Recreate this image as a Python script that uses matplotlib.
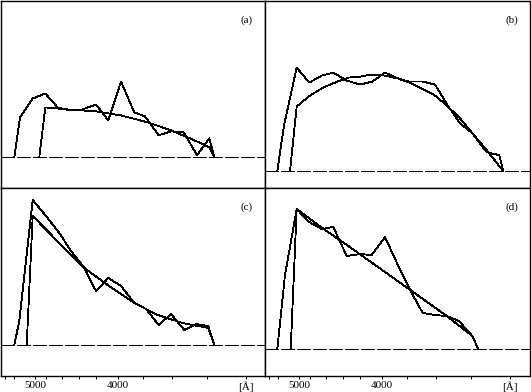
import matplotlib
matplotlib.use("Agg")
import matplotlib.pyplot as plt

# Dispersion coordinate (arbitrary position along spectrum), flux above baseline (arbitrary units)
a_obs_x = [13.3, 19, 31.7, 44.3, 56.7, 68.3, 81.7, 95, 107.3, 120, 133.3, 144, 157.7, 170, 182.7, 196, 208.3, 213.3]
a_obs_y = [0, 40, 59, 64, 50, 47, 48, 53, 37, 76, 45, 41, 22, 26, 25, 2, 19, 0]
a_fit_x = [38.3, 44.3, 66.7, 95, 120, 146.7, 170, 193.3, 208.3, 213.3]
a_fit_y = [0, 50, 48, 46, 42, 35, 27, 17, 10, 0]

b_obs_x = [12.3, 19, 31.7, 44.3, 56.7, 68.3, 81.7, 95, 107.3, 120, 133.3, 144, 157.7, 170, 182.7, 195, 207.3, 221.7, 234.3, 238.3]
b_obs_y = [0, 46, 104, 89, 96, 99, 91, 87, 90, 99, 93, 90, 90, 87, 66, 48, 38, 19, 16, 0]
b_fit_x = [25, 31.7, 45, 58.3, 70, 83.3, 95, 106.7, 120, 133.3, 146.7, 156.7, 170, 181.7, 195, 208.3, 221.7, 238.3]
b_fit_y = [0, 65, 76, 84, 89, 94, 95, 97, 96, 93, 88, 83, 76, 66, 53, 37, 21, 0]

c_obs_x = [13.3, 18.3, 31.7, 45, 58.3, 70, 82.7, 95, 107.3, 120, 133.3, 145, 157.7, 170, 183.3, 195, 207.3, 213.3]
c_obs_y = [0, 24, 145, 129, 112, 94, 78, 54, 67, 59, 42, 36, 20, 31, 15, 21, 19, 0]
c_fit_x = [25.7, 31.7, 58.3, 83.3, 106.7, 133.3, 156.7, 181.7, 207.3, 213.3]
c_fit_y = [0, 129, 102, 77, 60, 42, 30, 22, 17, 0]

d_obs_x = [12.3, 20, 31.7, 44.3, 56.7, 68.3, 81.7, 95, 106.7, 120, 133.3, 146.7, 157.7, 170, 181.7, 194, 207.3, 213.3]
d_obs_y = [0, 74, 140, 127, 120, 122, 93, 95, 94, 112, 83, 56, 36, 34, 33, 28, 13, 0]
d_fit_x = [25.7, 31.7, 60, 83.3, 120, 146.7, 181.7, 207.3, 213.3]
d_fit_y = [0, 140, 119, 103, 77, 58, 33, 13, 0]

panel_labels = ["(a)", "(b)", "(c)", "(d)"]
ylims = [(-31, 157), (-17, 171), (-31, 157), (-27, 161)]

tick_pos = [4, 12.7, 34, 45, 61, 77.7, 95, 116.7, 141.7, 170.7, 206, 245]
tick_labels = ["", "", "5000", "", "", "", "", "4000", "", "", "", "[Å]"]

W, H = 531, 392
fig = plt.figure(figsize=(W / 100, H / 100), dpi=100)
fig.patch.set_facecolor("white")

xl, xm, xr = 1, 265, 530
yt, ym, yb = 1, 188, 376
boxes = [
    (xl, yt, xm, ym), (xm, yt, xr, ym),
    (xl, ym, xm, yb), (xm, ym, xr, yb),
]
data = [
    (a_obs_x, a_obs_y, a_fit_x, a_fit_y),
    (b_obs_x, b_obs_y, b_fit_x, b_fit_y),
    (c_obs_x, c_obs_y, c_fit_x, c_fit_y),
    (d_obs_x, d_obs_y, d_fit_x, d_fit_y),
]
lw = 0.6
for i, ((x0, y0, x1, y1), (ox, oy, fx, fy)) in enumerate(zip(boxes, data)):
    ax = fig.add_axes([x0 / W, 1 - y1 / H, (x1 - x0) / W, (y1 - y0) / H])
    ax.set_xlim(0, x1 - x0)
    ax.set_ylim(*ylims[i])
    ax.axhline(0, color="black", lw=lw, dashes=(16, 3), antialiased=False)
    ax.plot(ox, oy, color="black", lw=lw, antialiased=False)
    ax.plot(fx, fy, color="black", lw=lw, antialiased=False)
    for s in ax.spines.values():
        s.set_linewidth(1.0)
        s.set_color("black")
    ax.text(0.931, 0.90, panel_labels[i], transform=ax.transAxes, ha="center", va="center",
            fontsize=8, family="Liberation Serif")
    ax.set_yticks([])
    if i >= 2:
        ax.set_xticks(tick_pos)
        ax.set_xticklabels(tick_labels, fontsize=8, family="Liberation Serif")
        ax.tick_params(axis="x", direction="out", length=2.5, width=0.72, pad=1.0)
    else:
        ax.set_xticks([])

fig.savefig("out.png", dpi=100, facecolor="white")
